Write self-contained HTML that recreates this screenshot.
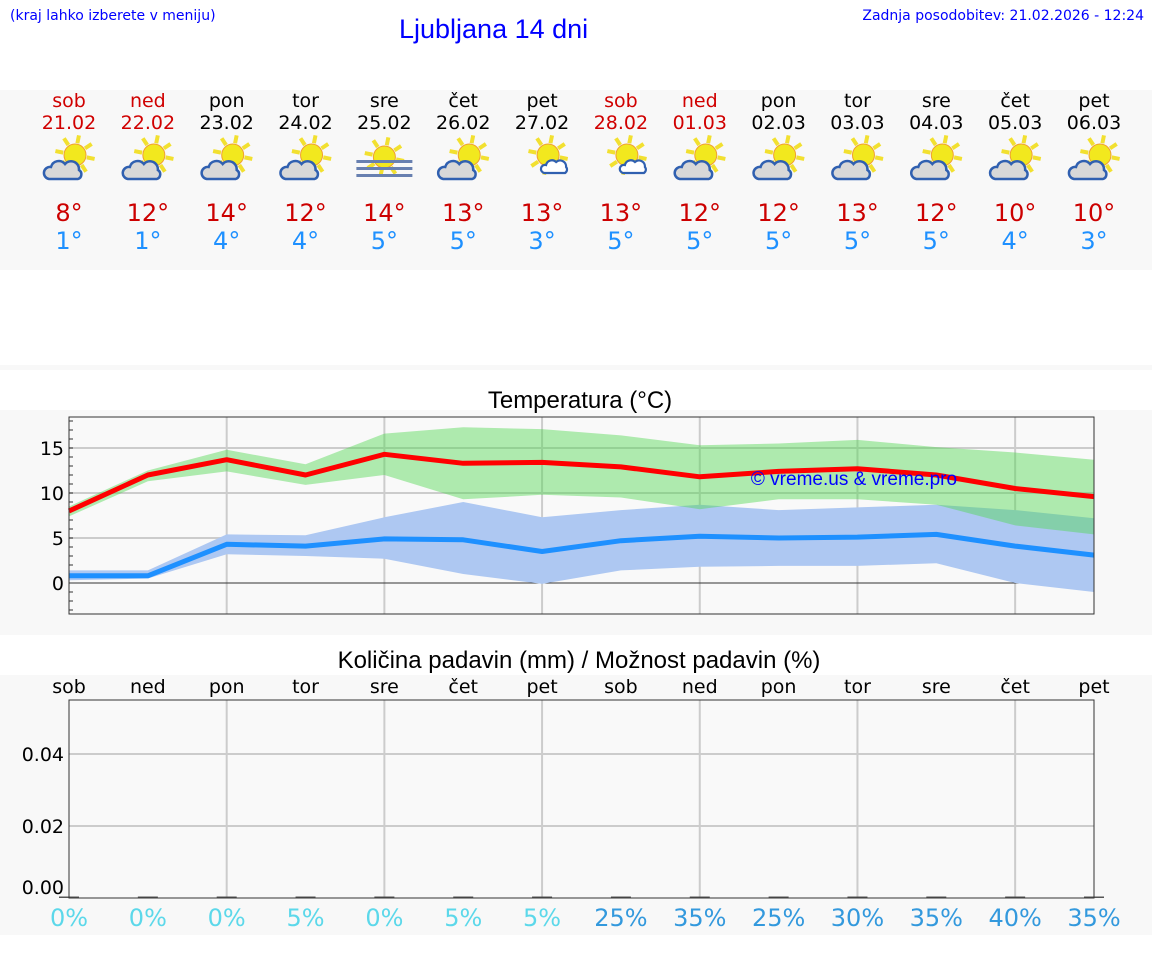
<!DOCTYPE html>
<html><head><meta charset="utf-8"><style>
body{margin:0;width:1152px;height:975px;background:#fff;font-family:"DejaVu Sans","Liberation Sans",sans-serif;overflow:hidden;position:relative}
.t{position:absolute;white-space:nowrap}
</style></head><body>
<div class="t" style="left:10px;top:8px;font-size:14px;color:#00f">(kraj lahko izberete v meniju)</div>
<div class="t" style="left:399px;top:14px;font-size:27px;color:#00f;font-family:'Liberation Sans',sans-serif">Ljubljana 14 dni</div>
<div class="t" style="right:8px;top:8px;font-size:14px;color:#00f">Zadnja posodobitev: 21.02.2026 - 12:24</div>
<svg id="s" width="1152" height="975" style="position:absolute;left:0;top:0"></svg>
<script>
const days=["sob","ned","pon","tor","sre","čet","pet","sob","ned","pon","tor","sre","čet","pet"];
const dates=["21.02","22.02","23.02","24.02","25.02","26.02","27.02","28.02","01.03","02.03","03.03","04.03","05.03","06.03"];
const weekend=[1,1,0,0,0,0,0,1,1,0,0,0,0,0];
const icons=["pc","pc","pc","pc","fog","pc","sc","sc","pc","pc","pc","pc","pc","pc"];
const tMax=[8,12,14,12,14,13,13,13,12,12,13,12,10,10];
const tMin=[1,1,4,4,5,5,3,5,5,5,5,5,4,3];
const maxLine=[8,12,13.7,12,14.3,13.3,13.4,12.9,11.8,12.4,12.7,12.0,10.5,9.6];
const maxHi=[8.5,12.5,14.8,13.2,16.6,17.3,17.1,16.4,15.3,15.5,15.9,15.1,14.5,13.7];
const maxLo=[7.4,11.3,12.4,10.9,12.0,9.3,9.8,9.5,8.2,9.3,9.3,8.7,6.4,5.4];
const minLine=[0.8,0.8,4.3,4.1,4.9,4.8,3.5,4.7,5.2,5.0,5.1,5.4,4.1,3.1];
const minHi=[1.4,1.4,5.4,5.3,7.3,9.0,7.3,8.1,8.7,8.1,8.4,8.7,8.1,7.2];
const minLo=[0.3,0.5,3.2,3.0,2.7,1.0,-0.1,1.4,1.8,1.9,1.9,2.2,0.0,-1.0];
const tTicks=[0,5,10,15];
const precip=[0,0,0,0,0,0,0,0,0,0,0,0,0,0];
const pChance=[0,0,0,5,0,5,5,25,35,25,30,35,40,35];
const pTicks=[0,0.02,0.04];

const S=document.getElementById('s');const NS='http://www.w3.org/2000/svg';
function el(tag,a,txt){const e=document.createElementNS(NS,tag);for(const k in a)e.setAttribute(k,a[k]);if(txt!=null)e.textContent=txt;S.appendChild(e);return e;}
const X0=69,X1=1094;const xs=i=>X0+i*(X1-X0)/13;
const ty=v=>583-v*9;const py=v=>898-v*(72/0.02);
let r;
r=el('rect',{x:0,y:90,width:1152,height:180,fill:'#f8f8f8'});
r=el('rect',{x:0,y:365,width:1152,height:5,fill:'#f8f8f8'});
r=el('rect',{x:0,y:410,width:1152,height:225,fill:'#f8f8f8'});
r=el('rect',{x:0,y:675,width:1152,height:260,fill:'#f8f8f8'});
function icon(cx,type){
 const g=document.createElementNS(NS,'g');S.appendChild(g);
 
 const sx=type==='fog'?cx:cx+6, sy=type==='fog'?157:155;
 let h='';
 for(let k=0;k<8;k++){const a=k*Math.PI/4+0.2;h+=`<line x1="${sx+Math.cos(a)*12}" y1="${sy+Math.sin(a)*12}" x2="${sx+Math.cos(a)*20}" y2="${sy+Math.sin(a)*20}" stroke="#f2e030" stroke-width="4"/>`;}
 h+=`<circle cx="${sx}" cy="${sy}" r="11" fill="#f2e81e" stroke="#f0a030" stroke-width="1"/>`;
 if(type==='pc'){h+=`<path d="M${cx-20} ${sy+24} a6 6 0 0 1 2 -12 a8 8 0 0 1 14 -3 a8 8 0 0 1 14 6 a5 5 0 0 1 -1 9 z" fill="#d8d8d8" stroke="#3060b0" stroke-width="2.5"/>`;}
 else if(type==='sc'){h+=`<path d="M${cx+2} ${sy+18} a4 4 0 0 1 2 -8 a6 6 0 0 1 10 -3 a6 6 0 0 1 10 5 a4 4 0 0 1 -1 6 z" fill="#fff" stroke="#3060b0" stroke-width="2.2"/>`;}
 else{for(const yy of[sy+3,sy+10,sy+17])h+=`<rect x="${cx-28}" y="${yy}" width="56" height="3" fill="#6880b0"/>`;}
 g.innerHTML=h;
}
days.forEach((d,i)=>{const x=xs(i);const c=weekend[i]?'#d00000':'#000';
 let e=el('text',{x:x,y:107,'font-size':19,'text-anchor':'middle',fill:c},d);
 e=el('text',{x:x,y:129,'font-size':19,'text-anchor':'middle',fill:c},dates[i]);
 icon(x,icons[i]);
 e=el('text',{x:x,y:221,'font-size':24,'text-anchor':'middle',fill:'#cc0000'},tMax[i]+'°');
 e=el('text',{x:x,y:249,'font-size':24,'text-anchor':'middle',fill:'#1e90ff'},tMin[i]+'°');
});
let e=el('text',{x:580,y:408,'font-size':24,'text-anchor':'middle',fill:'#000','font-family':'Liberation Sans'},'Temperatura (°C)');
e=el('rect',{x:X0,y:417,width:X1-X0,height:197,fill:'#f9f9f9'});
for(let i=2;i<13;i+=2){e=el('line',{x1:xs(i),x2:xs(i),y1:417,y2:614,stroke:'#ccc','stroke-width':2});}
tTicks.forEach(v=>{e=el('line',{x1:X0,x2:X1,y1:ty(v),y2:ty(v),stroke:v===0?'#333':'#ccc','stroke-width':v===0?1:2});
 e=el('text',{x:X0-5,y:ty(v)+7,'font-size':19,'text-anchor':'end',fill:'#000'},v);});
for(let v=-3;v<=18;v++){e=el('line',{x1:X0,x2:X0+4,y1:ty(v),y2:ty(v),stroke:'#333'});}
function band(hi,lo,fill,op,name){const p=hi.map((v,i)=>xs(i)+','+ty(v)).concat(lo.map((v,i)=>xs(i)+','+ty(v)).reverse());e=el('polygon',{points:p.join(' '),fill:fill,'fill-opacity':op});}
function line(a,c,name){e=el('polyline',{points:a.map((v,i)=>xs(i)+','+ty(v)).join(' '),fill:'none',stroke:c,'stroke-width':5,'stroke-linejoin':'round'});}
band(minHi,minLo,'#aec8f2',1,'min-temp-band');
band(maxHi,maxLo,'#51d751',0.45,'max-temp-band');
line(minLine,'#1e90ff','min-temp-line');
line(maxLine,'#ff0000','max-temp-line');
e=el('rect',{x:X0,y:417,width:X1-X0,height:197,fill:'none',stroke:'#333','stroke-width':1});
e=el('text',{x:854,y:485,'font-size':19,'text-anchor':'middle',fill:'#0000ff','font-family':'Liberation Sans'},'© vreme.us & vreme.pro');
e=el('text',{x:579,y:668,'font-size':24,'text-anchor':'middle',fill:'#000','font-family':'Liberation Sans'},'Količina padavin (mm) / Možnost padavin (%)');
e=el('rect',{x:X0,y:700,width:X1-X0,height:198,fill:'#f9f9f9'});
for(let i=2;i<13;i+=2){e=el('line',{x1:xs(i),x2:xs(i),y1:700,y2:898,stroke:'#ccc','stroke-width':2});}
pTicks.forEach(v=>{if(v>0){e=el('line',{x1:X0,x2:X1,y1:py(v),y2:py(v),stroke:'#ccc','stroke-width':2});}
 e=el('text',{x:X0-5,y:(v===0?894:py(v)+7),'font-size':19,'text-anchor':'end',fill:'#000'},v.toFixed(2));});
days.forEach((d,i)=>{const x=xs(i);
 e=el('text',{x:x,y:693,'font-size':19,'text-anchor':'middle',fill:'#000'},d);
 const h=Math.max(precip[i]*(72/0.02),1.5);
 e=el('rect',{x:x-10,y:898-h,width:20,height:h,fill:'#555'});
 e=el('text',{x:x,y:926,'font-size':24,'text-anchor':'middle',fill:pChance[i]>=25?'#3399dd':'#5cd8ea'},pChance[i]+'%');
});
e=el('rect',{x:X0,y:700,width:X1-X0,height:198,fill:'none',stroke:'#333','stroke-width':1});
</script>
</body></html>
